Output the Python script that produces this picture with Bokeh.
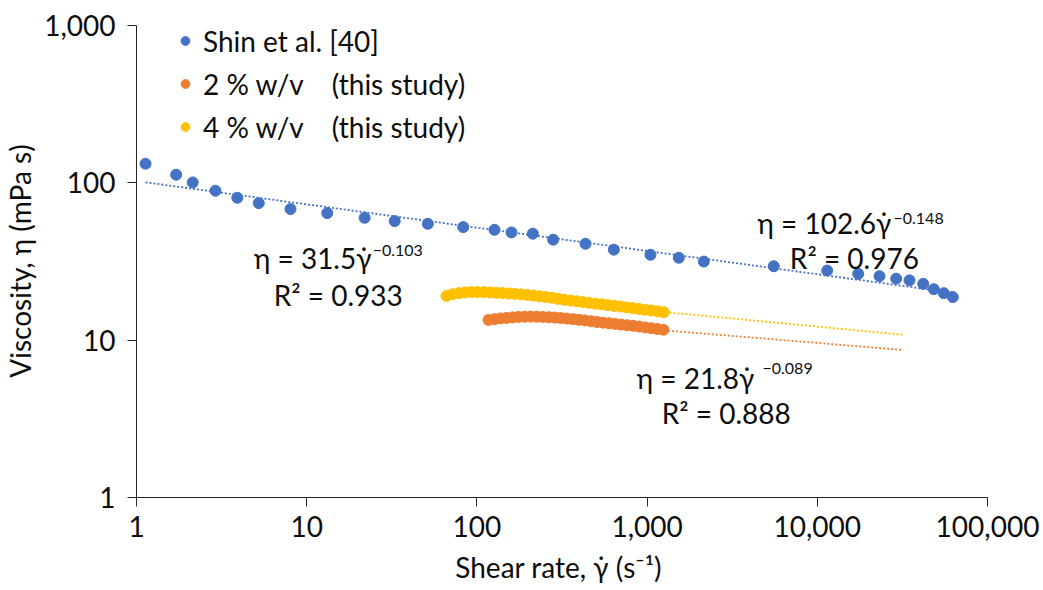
from bokeh.plotting import figure
from bokeh.models import (Range1d, FixedTicker, NumeralTickFormatter, Legend,
                          LegendItem, Label)
from bokeh.embed import file_html
from bokeh.resources import INLINE

# ---------------- data ----------------
shin_rate = [1.13, 1.71, 2.14, 2.91, 3.91, 5.23, 8.03, 13.2, 21.9, 32.9, 51.5,
             83.1, 126.9, 159.7, 213, 280.7, 434.6, 637.4, 1047, 1536, 2154,
             5551, 11436, 17393, 23199, 29082, 34812, 41907, 48361, 55380, 62550]
shin_visc = [132.3, 112.6, 100.6, 89.1, 80.4, 74.3, 68.1, 64.2, 60.0, 57.1, 54.9,
             52.3, 50.3, 48.4, 47.5, 43.5, 41.0, 37.6, 34.9, 33.4, 31.6,
             29.5, 27.7, 26.4, 25.5, 24.6, 24.0, 22.8, 21.1, 19.9, 18.8]

w4_rate = [66.3, 72.1, 78.4, 85.3, 92.8, 100.9, 109.7, 119.3, 129.8, 141.2,
           153.5, 167.0, 181.6, 197.5, 214.8, 233.6, 254.1, 276.3, 300.5, 326.8,
           355.5, 386.6, 420.5, 457.3, 497.4, 541.0, 588.4, 640.0, 696.0, 757.0,
           823.3, 895.4, 973.8, 1059, 1152, 1253]
w4_visc = [19.1, 19.6, 19.9, 20.1, 20.2, 20.2, 20.2, 20.1, 20.0, 19.95,
           19.8, 19.7, 19.55, 19.4, 19.2, 19.0, 18.8, 18.6, 18.3, 18.05,
           17.85, 17.65, 17.45, 17.25, 17.05, 16.9, 16.7, 16.5, 16.35, 16.15,
           16.0, 15.8, 15.6, 15.45, 15.25, 15.05]

w2_rate = [117.0, 126.9, 137.7, 149.4, 162.1, 175.9, 190.9, 207.1, 224.7, 243.8,
           264.5, 287.0, 311.4, 337.9, 366.6, 397.8, 431.6, 468.3, 508.1, 551.3,
           598.2, 649.0, 704.2, 764.1, 829.0, 899.5, 975.9, 1058.9, 1148.9, 1246.6]
w2_visc = [13.45, 13.6, 13.75, 13.85, 13.95, 14.05, 14.1, 14.12, 14.1, 14.05,
           14.0, 13.92, 13.83, 13.72, 13.6, 13.48, 13.35, 13.2, 13.05, 12.92,
           12.8, 12.68, 12.56, 12.45, 12.33, 12.2, 12.05, 11.92, 11.78, 11.65]

# power-law fits shown on the chart: eta = k * rate ** n
shin_fit = (102.6, -0.148)
w4_fit = (31.5, -0.103)
w2_fit = (21.8, -0.089)
forecast_end = 32000          # trendlines of this study extended forward

series_labels = ["Shin et al. [40]",
                 "2 % w/v\u00a0\u00a0\u00a0\u00a0(this study)",
                 "4 % w/v\u00a0\u00a0\u00a0\u00a0(this study)"]
eq_main = ["η = 102.6γ̇", "η = 31.5γ̇", "η = 21.8γ̇"]
eq_exp = ["−0.148", "−0.103", "−0.089"]
eq_r2 = ["R² = 0.976", "R² = 0.933", "R² = 0.888"]

x_ticks = [1, 10, 100, 1000, 10000, 100000]
y_ticks = [1, 10, 100, 1000]

BLUE, ORANGE, YELLOW = "#4472C4", "#ED7D31", "#FFC000"
FONT = "Lato"
TXT = "#0d0d0d"
FS = "28px"

p = figure(width=1043, height=590, x_axis_type="log", y_axis_type="log",
           x_range=Range1d(1, 100000), y_range=Range1d(1, 1000),
           output_backend="svg", toolbar_location=None,
           min_border_left=136, min_border_right=56,
           min_border_top=25, min_border_bottom=93)
p.outline_line_color = None
p.grid.visible = False
p.background_fill_color = "white"
p.border_fill_color = "white"


def fit_line(fit, x0, x1):
    k, n = fit
    return [x0, x1], [k * x0 ** n, k * x1 ** n]


# trendlines
for fit, xs, end, col in [(shin_fit, shin_rate, shin_rate[-1], BLUE),
                          (w2_fit, w2_rate, forecast_end, ORANGE),
                          (w4_fit, w4_rate, forecast_end, YELLOW)]:
    lx, ly = fit_line(fit, xs[0], end)
    p.line(lx, ly, line_color=col, line_width=1.8, line_dash="2 2")

r_shin = p.scatter(shin_rate, shin_visc, size=11, fill_color=BLUE, line_color=BLUE)
r_w2 = p.scatter(w2_rate, w2_visc, size=11, fill_color=ORANGE, line_color=ORANGE)
r_w4 = p.scatter(w4_rate, w4_visc, size=11, fill_color=YELLOW, line_color=YELLOW)

# axes
for ax, ticks in [(p.xaxis, x_ticks), (p.yaxis, y_ticks)]:
    ax.ticker = FixedTicker(ticks=ticks)
    ax.formatter = NumeralTickFormatter(format="0,0")
    ax.major_tick_out = 9
    ax.major_tick_in = 0
    ax.minor_tick_out = 0
    ax.minor_tick_in = 0
    ax.axis_line_color = "#262626"
    ax.major_tick_line_color = "#262626"
    ax.major_label_text_font = FONT
    ax.major_label_text_font_size = FS
    ax.major_label_text_color = TXT
    ax.axis_label_text_font = FONT
    ax.axis_label_text_font_size = FS
    ax.axis_label_text_font_style = "normal"
    ax.axis_label_text_color = TXT

p.xaxis.axis_label = "Shear rate, γ̇  (s⁻¹)"
p.yaxis.axis_label = "Viscosity, η (mPa s)"
p.xaxis.major_label_standoff = 9
p.xaxis.axis_label_standoff = 10
p.yaxis.major_label_standoff = 12
p.yaxis.axis_label_standoff = 4

# legend
legend = Legend(items=[LegendItem(label=series_labels[0], renderers=[r_shin]),
                       LegendItem(label=series_labels[1], renderers=[r_w2]),
                       LegendItem(label=series_labels[2], renderers=[r_w4])],
                location=(38, 349), orientation="vertical",
                label_text_font=FONT, label_text_font_size=FS,
                label_text_color=TXT,
                glyph_width=22, glyph_height=43, label_height=43,
                spacing=0, padding=0, margin=0, label_standoff=7,
                border_line_color=None, background_fill_alpha=0)
p.add_layout(legend)

# equation annotations (anchor positions in data units)
eq_pos = [(4454, 55.2), (4.9, 33.06), (870, 5.71)]
exp_pos = [(28030, 58.97), (24.4, 37.2), (4764, 6.61)]
r2_pos = [(6900, 33.06), (6.4, 19.24), (1220, 3.42)]
for i in range(3):
    p.add_layout(Label(x=eq_pos[i][0], y=eq_pos[i][1], text=eq_main[i],
                       text_font=FONT, text_font_size=FS, text_color=TXT,
                       text_baseline="alphabetic", text_align="left"))
    p.add_layout(Label(x=exp_pos[i][0], y=exp_pos[i][1], text=eq_exp[i],
                       text_font=FONT, text_font_size="16px", text_color=TXT,
                       text_baseline="alphabetic", text_align="left"))
    p.add_layout(Label(x=r2_pos[i][0], y=r2_pos[i][1], text=eq_r2[i],
                       text_font=FONT, text_font_size=FS, text_color=TXT,
                       text_baseline="alphabetic", text_align="left"))

open("out.html", "w").write(file_html(p, INLINE))
